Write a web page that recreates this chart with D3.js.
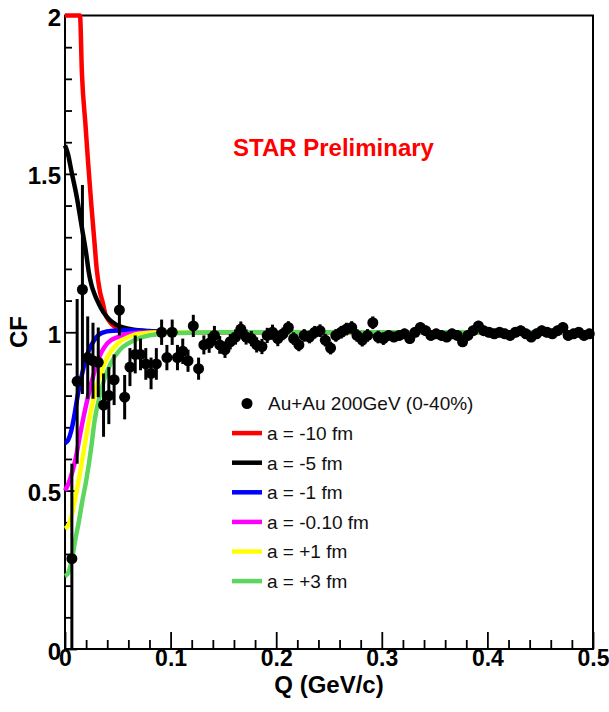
<!DOCTYPE html>
<html><head><meta charset="utf-8">
<script src="https://cdn.jsdelivr.net/npm/d3@7"></script>
<style>body{margin:0;background:#fff} svg{display:block;background:#fff}</style>
</head><body><svg id="c" width="609" height="712"></svg>
<script>
// ---------- data ----------
const qValues = [0.0065,0.0115,0.0165,0.0215,0.0265,0.0315,0.0365,0.0415,0.0465,0.0515,
0.0565,0.0615,0.0665,0.0715,0.0765,0.0815,0.0865,0.0915,0.0965,0.1015,
0.1065,0.1115,0.1165,0.1215,0.1265,0.1315,0.1365,0.1415,0.1465,0.1515,
0.1565,0.1615,0.1665,0.1715,0.1765,0.1815,0.1865,0.1915,0.1965,0.2015,
0.2065,0.2115,0.2165,0.2215,0.2265,0.2315,0.2365,0.2415,0.2465,0.2515,
0.2565,0.2615,0.2665,0.2715,0.2765,0.2815,0.2865,0.2915,0.2965,0.3015,
0.3065,0.3115,0.3165,0.3215,0.3265,0.3315,0.3365,0.3415,0.3465,0.3515,
0.3565,0.3615,0.3665,0.3715,0.3765,0.3815,0.3865,0.3915,0.3965,0.4015,
0.4065,0.4115,0.4165,0.4215,0.4265,0.4315,0.4365,0.4415,0.4465,0.4515,
0.4565,0.4615,0.4665,0.4715,0.4765,0.4815,0.4865,0.4915,0.4965];
const cfValues = [0.285,0.845,1.135,0.92,0.91,0.905,0.77,0.80,0.85,1.07,
0.795,0.89,0.93,0.93,0.90,0.87,0.90,1.0,0.92,1.0,
0.92,0.94,0.91,1.02,0.885,0.96,0.965,0.99,0.96,0.945,
0.97,0.985,1.01,0.985,0.98,0.96,0.955,0.99,1.0,0.98,
0.995,1.015,0.98,0.96,0.99,0.985,1.0,1.005,0.975,0.95,
0.99,1.0,1.01,1.015,0.99,0.975,0.99,1.03,0.985,0.98,
0.99,0.985,0.99,0.995,0.98,1.0,1.015,1.005,0.99,0.995,
0.99,0.985,0.995,0.99,0.97,0.99,1.005,1.02,1.005,1.0,
0.995,1.0,0.995,0.99,1.0,1.005,0.995,0.985,0.995,1.005,
1.0,0.995,1.005,1.015,0.99,0.995,1.0,0.99,0.995];
const cfErrors = [0.30,0.26,0.33,0.13,0.12,0.11,0.10,0.09,0.08,0.08,
0.07,0.06,0.06,0.05,0.05,0.05,0.05,0.04,0.04,0.04,
0.04,0.04,0.035,0.035,0.035,0.03,0.03,0.03,0.028,0.026,
0.024,0.024,0.024,0.024,0.024,0.024,0.024,0.024,0.024,0.024,
0.02,0.02,0.02,0.02,0.02,0.02,0.02,0.02,0.02,0.02,
0.02,0.02,0.02,0.02,0.02,0.02,0.02,0.02,0.02,0.02,
0.016,0.016,0.016,0.016,0.016,0.016,0.016,0.016,0.016,0.016,
0.016,0.016,0.016,0.016,0.016,0.016,0.016,0.016,0.016,0.016,
0.016,0.016,0.016,0.016,0.016,0.016,0.016,0.016,0.016,0.016,
0.016,0.016,0.016,0.016,0.016,0.016,0.016,0.016,0.016];

// model curves (Q, CF)
const curveRed = [[0,2.6],[0.012,2.1],[0.0142,2.0],[0.016,1.82],[0.0195,1.65],[0.022,1.53],[0.025,1.4],[0.028,1.28],[0.030,1.2],[0.033,1.13],[0.036,1.09],[0.038,1.06],[0.042,1.035],[0.046,1.02],[0.052,1.01],[0.06,1.005],[0.08,1.002],[0.1,1.0],[0.5,1.0]];
const curveBlack = [[0,1.59],[0.003,1.56],[0.006,1.51],[0.011,1.43],[0.016,1.33],[0.02,1.25],[0.0225,1.19],[0.025,1.15],[0.028,1.12],[0.032,1.09],[0.036,1.065],[0.042,1.04],[0.048,1.025],[0.055,1.015],[0.065,1.008],[0.08,1.004],[0.1,1.0],[0.5,1.0]];
const curveBlue = [[0,0.65],[0.003,0.66],[0.006,0.69],[0.009,0.74],[0.012,0.8],[0.015,0.85],[0.02,0.92],[0.025,0.96],[0.03,0.985],[0.035,0.998],[0.045,1.005],[0.06,1.006],[0.08,1.003],[0.1,1.0],[0.5,1.0]];
const curveMagenta = [[0,0.5],[0.003,0.52],[0.007,0.56],[0.01,0.6],[0.015,0.69],[0.02,0.77],[0.025,0.84],[0.03,0.9],[0.035,0.94],[0.04,0.965],[0.05,0.985],[0.06,0.995],[0.08,1.0],[0.5,1.0]];
const curveYellow = [[0,0.38],[0.003,0.39],[0.007,0.43],[0.01,0.48],[0.015,0.57],[0.02,0.67],[0.025,0.76],[0.03,0.83],[0.035,0.88],[0.04,0.92],[0.05,0.965],[0.06,0.985],[0.07,0.995],[0.09,1.0],[0.5,1.0]];
const curveGreen = [[0,0.23],[0.003,0.24],[0.007,0.29],[0.01,0.35],[0.013,0.4],[0.016,0.46],[0.02,0.53],[0.025,0.64],[0.028,0.72],[0.033,0.8],[0.038,0.86],[0.043,0.9],[0.052,0.945],[0.06,0.965],[0.071,0.982],[0.08,0.99],[0.1,0.997],[0.15,1.0],[0.5,1.0]];

const curveLabels = ["a = -10 fm","a = -5 fm","a = -1 fm","a = -0.10 fm","a = +1 fm","a = +3 fm"];
const curveColors = ["#ff0000","#000000","#0000ff","#ff00ff","#ffff00","#5cd65c"];
const curveData = [curveRed, curveBlack, curveBlue, curveMagenta, curveYellow, curveGreen];
const dataLabel = "Au+Au 200GeV (0-40%)";
const xMajorTicks = [0,0.1,0.2,0.3,0.4,0.5];
const xMinorTicks = [0.02,0.04,0.06,0.08,0.12,0.14,0.16,0.18,0.22,0.24,0.26,0.28,0.32,0.34,0.36,0.38,0.42,0.44,0.46,0.48];
const yMajorTicks = [0,0.5,1,1.5,2];
const yMinorTicks = [0.1,0.2,0.3,0.4,0.6,0.7,0.8,0.9,1.1,1.2,1.3,1.4,1.6,1.7,1.8,1.9];

// ---------- drawing ----------
const FONT = "'Liberation Sans', Arial, Helvetica, sans-serif";
const svg = d3.select("#c");
const L = 65, R = 593, T = 15.5, B = 649;
const x = d3.scaleLinear().domain([0,0.5]).range([L,R]);
const y = d3.scaleLinear().domain([0,2]).range([B,T]).clamp(true);

// frame
svg.append("rect").attr("x",L).attr("y",T).attr("width",R-L).attr("height",B-T)
  .attr("fill","none").attr("stroke","#000").attr("stroke-width",2);

function styleAxis(g){
  g.select(".domain").remove();
  g.selectAll(".tick line").attr("stroke","#000").attr("stroke-width",1.8);
  g.selectAll("text").attr("font-family",FONT).attr("font-size",24).attr("font-weight","bold").attr("fill","#000");
}
svg.append("g").attr("transform",`translate(0,${B})`)
  .call(d3.axisBottom(x).tickValues(xMajorTicks).tickSize(-17).tickPadding(0).tickFormat(d=>String(d)))
  .call(styleAxis)
  .call(g=>g.selectAll("text").attr("font-size",23).attr("y",17).attr("dy",null));
svg.append("g").attr("transform",`translate(0,${B})`)
  .call(d3.axisBottom(x).tickValues(xMinorTicks).tickSize(-9).tickFormat(""))
  .call(styleAxis);
svg.append("g").attr("transform",`translate(${L},0)`)
  .call(d3.axisLeft(y).tickValues(yMajorTicks).tickSize(-12).tickPadding(4).tickFormat(d=>String(d)))
  .call(styleAxis)
  .call(g=>g.selectAll("text").attr("dy","0.42em"));
svg.append("g").attr("transform",`translate(${L},0)`)
  .call(d3.axisLeft(y).tickValues(yMinorTicks).tickSize(-7).tickFormat(""))
  .call(styleAxis);

// axis titles
svg.append("text").attr("x",329).attr("y",693).attr("text-anchor","middle")
  .attr("font-family",FONT).attr("font-size",24).attr("font-weight","bold").text("Q (GeV/c)");
svg.append("text").attr("transform","translate(27,332) rotate(-90)").attr("text-anchor","middle")
  .attr("font-family",FONT).attr("font-size",24).attr("font-weight","bold").text("CF");

// curves
const line = d3.line().x(d=>x(d[0])).y(d=>y(d[1])).curve(d3.curveMonotoneX);
svg.append("g").selectAll("path").data(curveData).join("path")
  .attr("d",line).attr("fill","none")
  .attr("stroke",(d,i)=>curveColors[i]).attr("stroke-width",4.5);

// data points
const pts = qValues.map((q,i)=>({q, v:cfValues[i], e:cfErrors[i]}));
const gp = svg.append("g");
gp.selectAll("line").data(pts).join("line")
  .attr("x1",d=>x(d.q)).attr("x2",d=>x(d.q))
  .attr("y1",d=>y(d.v-d.e)).attr("y2",d=>y(d.v+d.e))
  .attr("stroke","#000").attr("stroke-width",3);
gp.selectAll("circle").data(pts).join("circle")
  .attr("cx",d=>x(d.q)).attr("cy",d=>y(d.v)).attr("r",5.5).attr("fill","#000");

// STAR Preliminary
svg.append("text").attr("x",233).attr("y",156).attr("fill","#ff0000")
  .attr("font-family",FONT).attr("font-size",24).attr("font-weight","bold").text("STAR Preliminary");

// legend
const legY0 = 403.5, legDy = 29.6;
const leg = svg.append("g");
leg.append("circle").attr("cx",247).attr("cy",legY0).attr("r",5.5).attr("fill","#000");
leg.append("text").attr("x",268).attr("y",legY0).attr("dy","0.36em")
  .attr("font-family",FONT).attr("font-size",19).attr("fill","#111").text(dataLabel);
curveLabels.forEach((lab,i)=>{
  const yy = legY0 + (i+1)*legDy;
  leg.append("line").attr("x1",232).attr("x2",262).attr("y1",yy).attr("y2",yy)
    .attr("stroke",curveColors[i]).attr("stroke-width",4.5);
  leg.append("text").attr("x",267).attr("y",yy).attr("dy","0.36em")
    .attr("font-family",FONT).attr("font-size",19).attr("fill","#111").text(lab);
});
</script></body></html>
